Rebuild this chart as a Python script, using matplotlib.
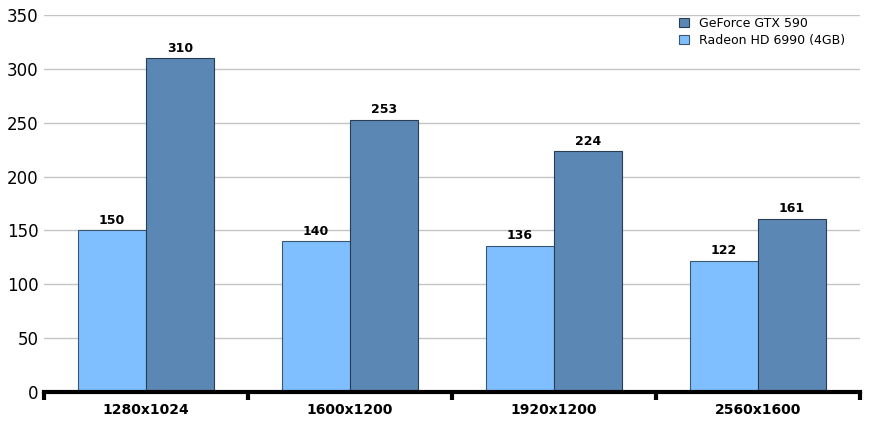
import numpy as np
import matplotlib
matplotlib.use('Agg')
import matplotlib.pyplot as plt

# benchmark data
resolutions = ['1280x1024', '1600x1200', '1920x1200', '2560x1600']
gtx590 = [310, 253, 224, 161]
hd6990 = [150, 140, 136, 122]
series_names = ['GeForce GTX 590', 'Radeon HD 6990 (4GB)']
yticks = [0, 50, 100, 150, 200, 250, 300, 350]

dark = '#5B87B5'
light = '#7FBFFF'

fig = plt.figure(figsize=(8.7, 4.23), dpi=100)
ax = fig.add_axes([0.0506, 0.0733, 0.938, 0.891])

x = np.arange(len(resolutions))
w = 1 / 3
b2 = ax.bar(x - w / 2, hd6990, w, color=light, edgecolor='#3d5670', linewidth=0.8,
            label=series_names[1], zorder=3)
b1 = ax.bar(x + w / 2, gtx590, w, color=dark, edgecolor='#2b3d52', linewidth=0.8,
            label=series_names[0], zorder=3)

for bars in (b1, b2):
    for r in bars:
        ax.text(r.get_x() + r.get_width() / 2, r.get_height() + 3, str(int(r.get_height())),
                ha='center', va='bottom', fontsize=9, fontweight='bold')

ax.set_xlim(-0.5, len(resolutions) - 0.5)
ax.set_ylim(0, 350)
ax.set_yticks(yticks)
ax.yaxis.grid(True, color='#c4c4c4', linewidth=1, zorder=0)
ax.tick_params(axis='y', length=0, labelsize=12, pad=4)

# category boundaries as ticks, labels at group centres
ax.set_xticks(np.arange(len(resolutions) + 1) - 0.5)
ax.set_xticklabels([])
ax.set_xticks(x, minor=True)
ax.set_xticklabels(resolutions, minor=True, fontsize=10, fontweight='bold')
ax.tick_params(axis='x', which='major', length=6, width=3, direction='out', color='black')
ax.tick_params(axis='x', which='minor', length=0, pad=8)

for s in ['left', 'right', 'top']:
    ax.spines[s].set_visible(False)
ax.spines['bottom'].set_linewidth(3)
ax.spines['bottom'].set_zorder(4)

ax.legend(handles=[b1, b2], loc='upper right', bbox_to_anchor=(0.995, 1.025), frameon=False,
          fontsize=9, handlelength=0.8, handleheight=0.8, handletextpad=0.8,
          labelspacing=0.3)

fig.savefig('out.png', dpi=100)
